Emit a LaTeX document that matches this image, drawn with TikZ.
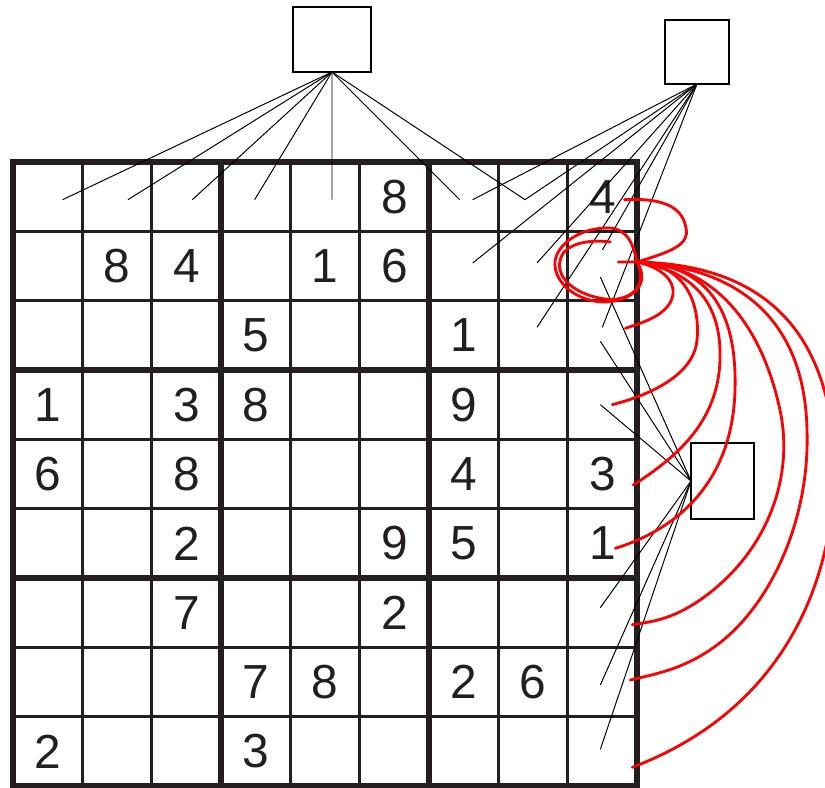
\documentclass[tikz,border=0pt]{standalone}
\usepackage{fontspec}
\setmainfont{Liberation Sans}
\usetikzlibrary{calc}

\definecolor{gridink}{RGB}{35,31,32}

\begin{document}
\begin{tikzpicture}[
  x=0.025cm,y=-0.025cm,
  cellnum/.style={inner sep=0pt,text=gridink,font=\fontsize{34}{40}\selectfont},
  unitbox/.style={draw,line width=1.4pt,outer sep=0pt},
  thinrule/.style={line width=1.8pt,gridink},
  thickrule/.style={line width=4.8pt,gridink},
  link/.style={line width=.7pt},
  trail/.style={red,line width=2pt,line cap=round,line join=round}
]
  \useasboundingbox (0,0) rectangle (825,788);

  \foreach \i in {1,2,4,5,7,8}{
    \draw[thinrule] ({13+69.333*\i},162) -- ({13+69.333*\i},786);
    \draw[thinrule] (13,{162+69.333*\i}) -- (637,{162+69.333*\i});
  }
  \foreach \i in {3,6}{
    \draw[thickrule] ({13+69.333*\i},162) -- ({13+69.333*\i},786);
    \draw[thickrule] (13,{162+69.333*\i}) -- (637,{162+69.333*\i});
  }
  \draw[thickrule] (13,162) rectangle (637,786);

  \foreach \line [count=\r from 0] in {{,,,,,8,,,4},{,8,4,,1,6,,,},{,,,5,,,1,,},%
      {1,,3,8,,,9,,},{6,,8,,,,4,,3},{,,2,,,9,5,,1},%
      {,,7,,,2,,,},{,,,7,8,,2,6,},{2,,,3,,,,,}}{
    \foreach \d [count=\c from 0] in \line
      \node[cellnum] (c-\r-\c) at ({13+69.333*(\c+.5)},{162+69.333*(\r+.5)}) {\d};
  }

  \node[unitbox,minimum width=1.95cm,minimum height=1.625cm] (rowbox) at (332,39.5) {};
  \node[unitbox,minimum width=1.6cm,minimum height=1.6cm] (blockbox) at (697,52) {};
  \node[unitbox,minimum width=1.575cm,minimum height=1.9cm] (colbox) at (722.5,481) {};

  \foreach \c/\dx in {0/15,1/11,2/6,3/-1,4/7,6/-4,7/-8}
    \draw[link] (rowbox.south) -- ($(c-0-\c)+(\dx,3)$);
  \foreach \r/\c/\dx/\dy in {0/6/9/3,0/7/-8/3,1/6/9/-3,1/7/4/-3,1/8/0/-16,2/7/4/-8,2/8/0/-8}
    \draw[link] (blockbox.south) -- ($(c-\r-\c)+(\dx,\dy)$);
  \foreach \r/\dy in {1/11,2/6,3/0,6/-5,7/3,8/-2}
    \draw[link] (colbox.west) -- ($(c-\r-8)+(-2,\dy)$);

  \coordinate (hub) at (637,262);
  \draw[trail] (hub) .. controls (670,252) and (690,245) .. (686,228)
    .. controls (682,205) and (660,198) .. ($(c-0-8)+(22,3)$);
  \draw[trail] (hub) .. controls (650,290) and (625,302) .. (605,299)
    .. controls (570,294) and (550,272) .. (564,252)
    .. controls (575,241) and (595,240) .. ($(c-1-8)+(8,-24)$);
  \draw[trail] (hub) .. controls (632,236) and (622,227) .. (605,228)
    .. controls (576,229) and (553,248) .. (555,266)
    .. controls (557,288) and (583,302) .. (604,302)
    .. controls (630,302) and (652,285) .. (hub);
  \draw[trail] ($(c-1-8)+(16,-4)$) -- (hub);
  \draw[trail] (hub) .. controls (665,268) and (680,285) .. (670,303)
    .. controls (662,316) and (645,322) .. ($(c-2-8)+(23,-7)$);
  \draw[trail] (hub) .. controls (690,265) and (700,310) .. (697,340)
    .. controls (694,375) and (650,395) .. ($(c-3-8)+(10,0)$);
  \draw[trail] (hub) .. controls (690,270) and (722,300) .. (720,360)
    .. controls (718,420) and (680,455) .. ($(c-4-8)+(31,11)$);
  \draw[trail] (hub) .. controls (715,265) and (737,320) .. (735,390)
    .. controls (733,470) and (690,525) .. ($(c-5-8)+(13,5)$);
  \draw[trail] (hub) .. controls (725,265) and (765,340) .. (780,410)
    .. controls (795,480) and (765,555) .. (700,600)
    .. controls (671,620) and (650,622) .. ($(c-6-8)+(30,12)$);
  \draw[trail] (hub) .. controls (750,268) and (805,330) .. (807,430)
    .. controls (810,520) and (770,610) .. (710,650)
    .. controls (680,670) and (655,674) .. ($(c-7-8)+(28,-2)$);
  \draw[trail] (hub) .. controls (790,265) and (830,360) .. (835,460)
    .. controls (835,600) and (770,715) .. ($(c-8-8)+(30,16)$);
\end{tikzpicture}
\end{document}
